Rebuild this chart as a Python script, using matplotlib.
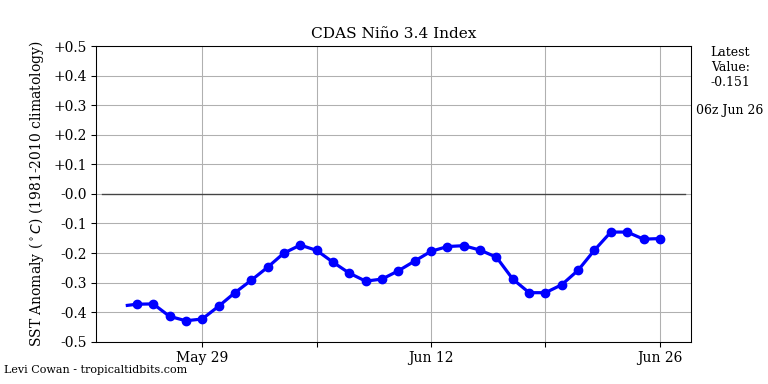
import matplotlib
matplotlib.use("Agg")
import matplotlib.pyplot as plt
import datetime as dt

# daily values, May 25 - Jun 26
start = dt.datetime(2023, 5, 25)
values = [-0.373, -0.372, -0.414, -0.429, -0.423, -0.380, -0.334, -0.292,
          -0.248, -0.200, -0.173, -0.191, -0.231, -0.268, -0.295, -0.288,
          -0.260, -0.227, -0.194, -0.178, -0.175, -0.190, -0.214, -0.288,
          -0.334, -0.334, -0.307, -0.258, -0.190, -0.129, -0.129, -0.153,
          -0.151]
first_line_value = -0.377
yticks = [0.5, 0.4, 0.3, 0.2, 0.1, 0.0, -0.1, -0.2, -0.3, -0.4, -0.5]
ytick_labels = ['+0.5', '+0.4', '+0.3', '+0.2', '+0.1', '-0.0',
                '-0.1', '-0.2', '-0.3', '-0.4', '-0.5']

dates = [start + dt.timedelta(days=i) for i in range(len(values))]
line_dates = [start - dt.timedelta(hours=14)] + dates
line_values = [first_line_value] + values

plt.rcParams['font.family'] = 'DejaVu Serif'
fig, ax = plt.subplots(figsize=(8, 4), dpi=96)

ax.plot(line_dates, line_values, color='blue', linewidth=2.4, zorder=3)
ax.plot(dates, values, 'o', color='blue', markersize=6.3, zorder=4)
ax.axhline(0, xmin=0.01, xmax=0.99, color='#444444', linewidth=1)

ax.set_xlim(dt.datetime(2023, 5, 22, 12), dt.datetime(2023, 6, 27, 22))
ax.set_ylim(-0.5, 0.5)
ax.set_yticks(yticks)
ax.set_yticklabels(ytick_labels)

week_ticks = [dt.datetime(2023, 5, 29) + dt.timedelta(days=7 * i) for i in range(5)]
ax.set_xticks(week_ticks)
ax.set_xticklabels([d.strftime('%b %d') if i % 2 == 0 else '' for i, d in enumerate(week_ticks)])
ax.tick_params(labelsize=10.4)
ax.grid(True, color='#b0b0b0')

ax.set_title('CDAS Niño 3.4 Index', fontsize=11.5)
ax.set_ylabel(r'SST Anomaly ($^\circ C$) (1981-2010 climatology)', fontsize=10.4, labelpad=5)

fig.text(0.951, 0.88, 'Latest\nValue:\n-0.151', ha='center', va='top', fontsize=9.4)
fig.text(0.95, 0.711, '06z Jun 26', ha='center', va='center', fontsize=9.4)
fig.text(0.005, 0.036, 'Levi Cowan - tropicaltidbits.com', ha='left', va='center', fontsize=8.3)

fig.savefig('out.png', dpi=96)
